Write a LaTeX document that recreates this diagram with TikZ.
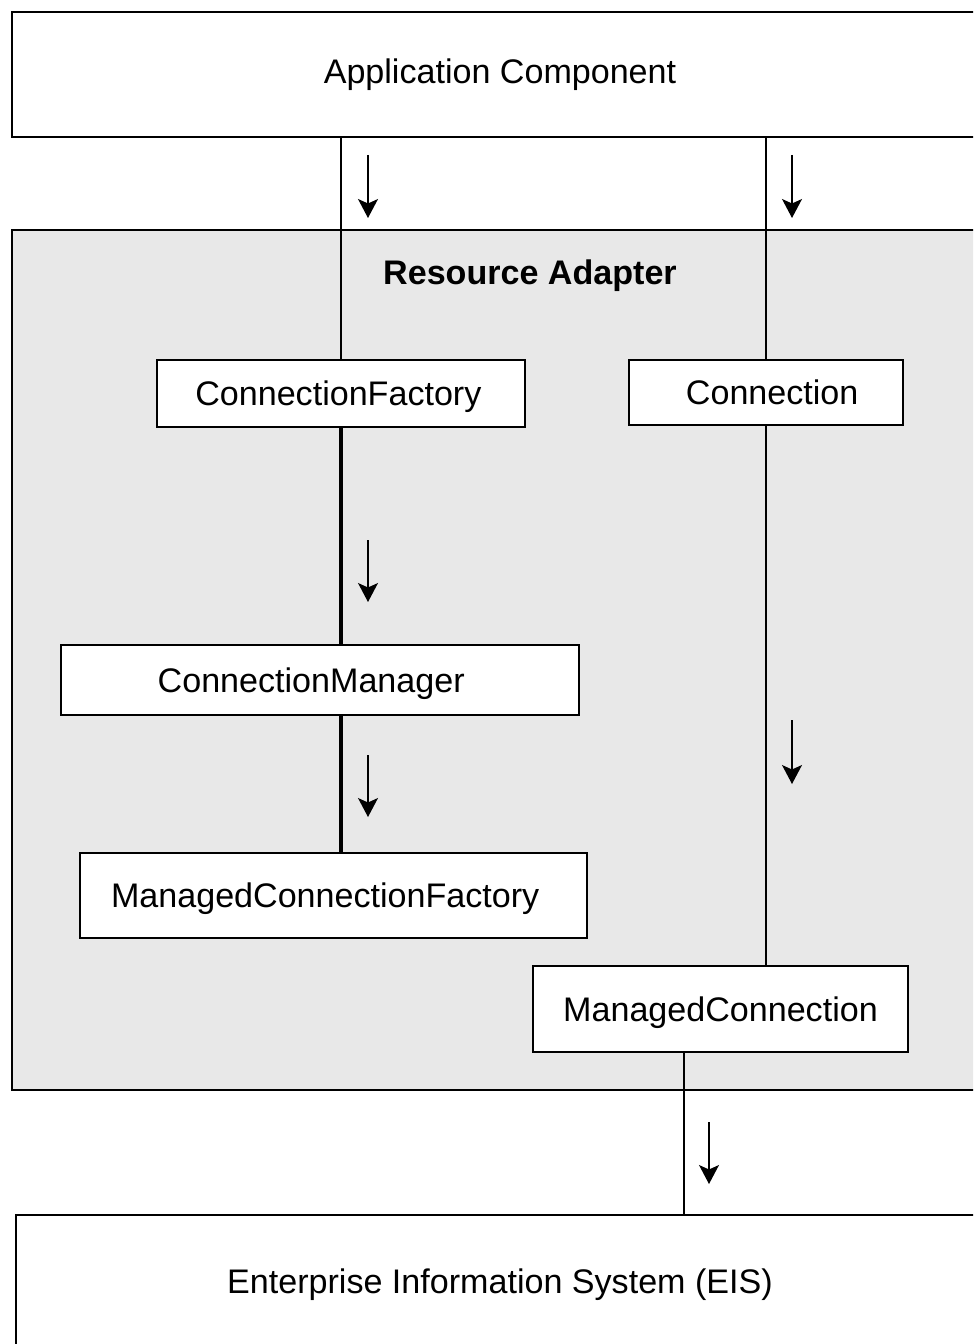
\documentclass[tikz,border=0pt]{standalone}
\usepackage{fontspec}
\setmainfont{Liberation Sans}
\usetikzlibrary{arrows.meta, positioning}

\definecolor{adaptergray}{HTML}{E8E8E8}
\newcommand{\lowered}[1]{\raisebox{-2pt}[\height][\depth]{#1}}

\begin{document}
\begin{tikzpicture}[
		x=0.02cm, y=-0.02cm,
		every node/.style={font=\fontsize{19.4}{23}\selectfont},
		block/.style={
			rectangle,
			draw,
			line width=1.1pt,
			fill=white,
			inner sep=0pt,
			outer sep=0pt,
			align=center
		},
		link/.style={
			line width=0.8pt
		},
		thicklink/.style={
			line width=2.8pt
		},
		flowarrow/.style={
			-{Stealth[length=0.38cm, width=0.4cm, inset=0.09cm]},
			line width=0.75pt
		}
		]
		
		% Page frame
		\useasboundingbox (0,0) rectangle (973,1344);
		\clip (0,0) rectangle (973,1344);
		
		% Outer boxes
		\node[block, minimum width=19.52cm, minimum height=2.5cm] (app) at (500,74.5) {Application Component};
		
		\node[block, fill=adaptergray, minimum width=19.52cm, minimum height=17.2cm] (adapter) at (500,660) {};
		\node[font=\fontsize{19.4}{23}\selectfont\bfseries] (adaptertitle) at (530,276) {Resource Adapter};
		
		\node[block, minimum width=19.36cm, minimum height=2.64cm] (eis) at (500,1281) {\lowered{Enterprise Information System (EIS)}};
		
		% Inner boxes
		\node[block, minimum width=7.36cm, minimum height=1.34cm] (factory) at (341,393.5) {\lowered{ConnectionFactory}\hspace{3pt}};
		\node[block, minimum width=5.48cm, minimum height=1.3cm] (conn) at (766,392.5) {\hspace{7pt}Connection};
		\node[block, minimum width=10.36cm, minimum height=1.4cm] (manager) at (320,680) {\lowered{ConnectionManager}\hspace{10pt}};
		\node[block, minimum width=10.14cm, minimum height=1.7cm] (mcfactory) at (333.5,895.5) {\lowered{ManagedConnectionFactory}\hspace{9.5pt}};
		\node[block, minimum width=7.5cm, minimum height=1.72cm] (mconn) at (720.5,1009) {\lowered{ManagedConnection}};
		
		% Connecting lines
		\draw[link] (factory.north) -- (factory.north |- app.south);
		\draw[link] (conn.north) -- (conn.north |- app.south);
		\draw[thicklink] (factory.south) -- (factory.south |- manager.north);
		\draw[thicklink] (factory.south |- manager.south) -- (factory.south |- mcfactory.north);
		\draw[link] (conn.south) -- (conn.south |- mconn.north);
		\draw[link] ([xshift=-0.73cm]mconn.south) -- ([xshift=-0.73cm]mconn.south |- eis.north);
		
		% Direction arrows
		\draw[flowarrow] (368,155) -- (368,218);
		\draw[flowarrow] (792,155) -- (792,218);
		\draw[flowarrow] (368,540) -- (368,602);
		\draw[flowarrow] (368,755) -- (368,817);
		\draw[flowarrow] (792,720) -- (792,784);
		\draw[flowarrow] (709,1122) -- (709,1184);
		
	\end{tikzpicture}
\end{document}
